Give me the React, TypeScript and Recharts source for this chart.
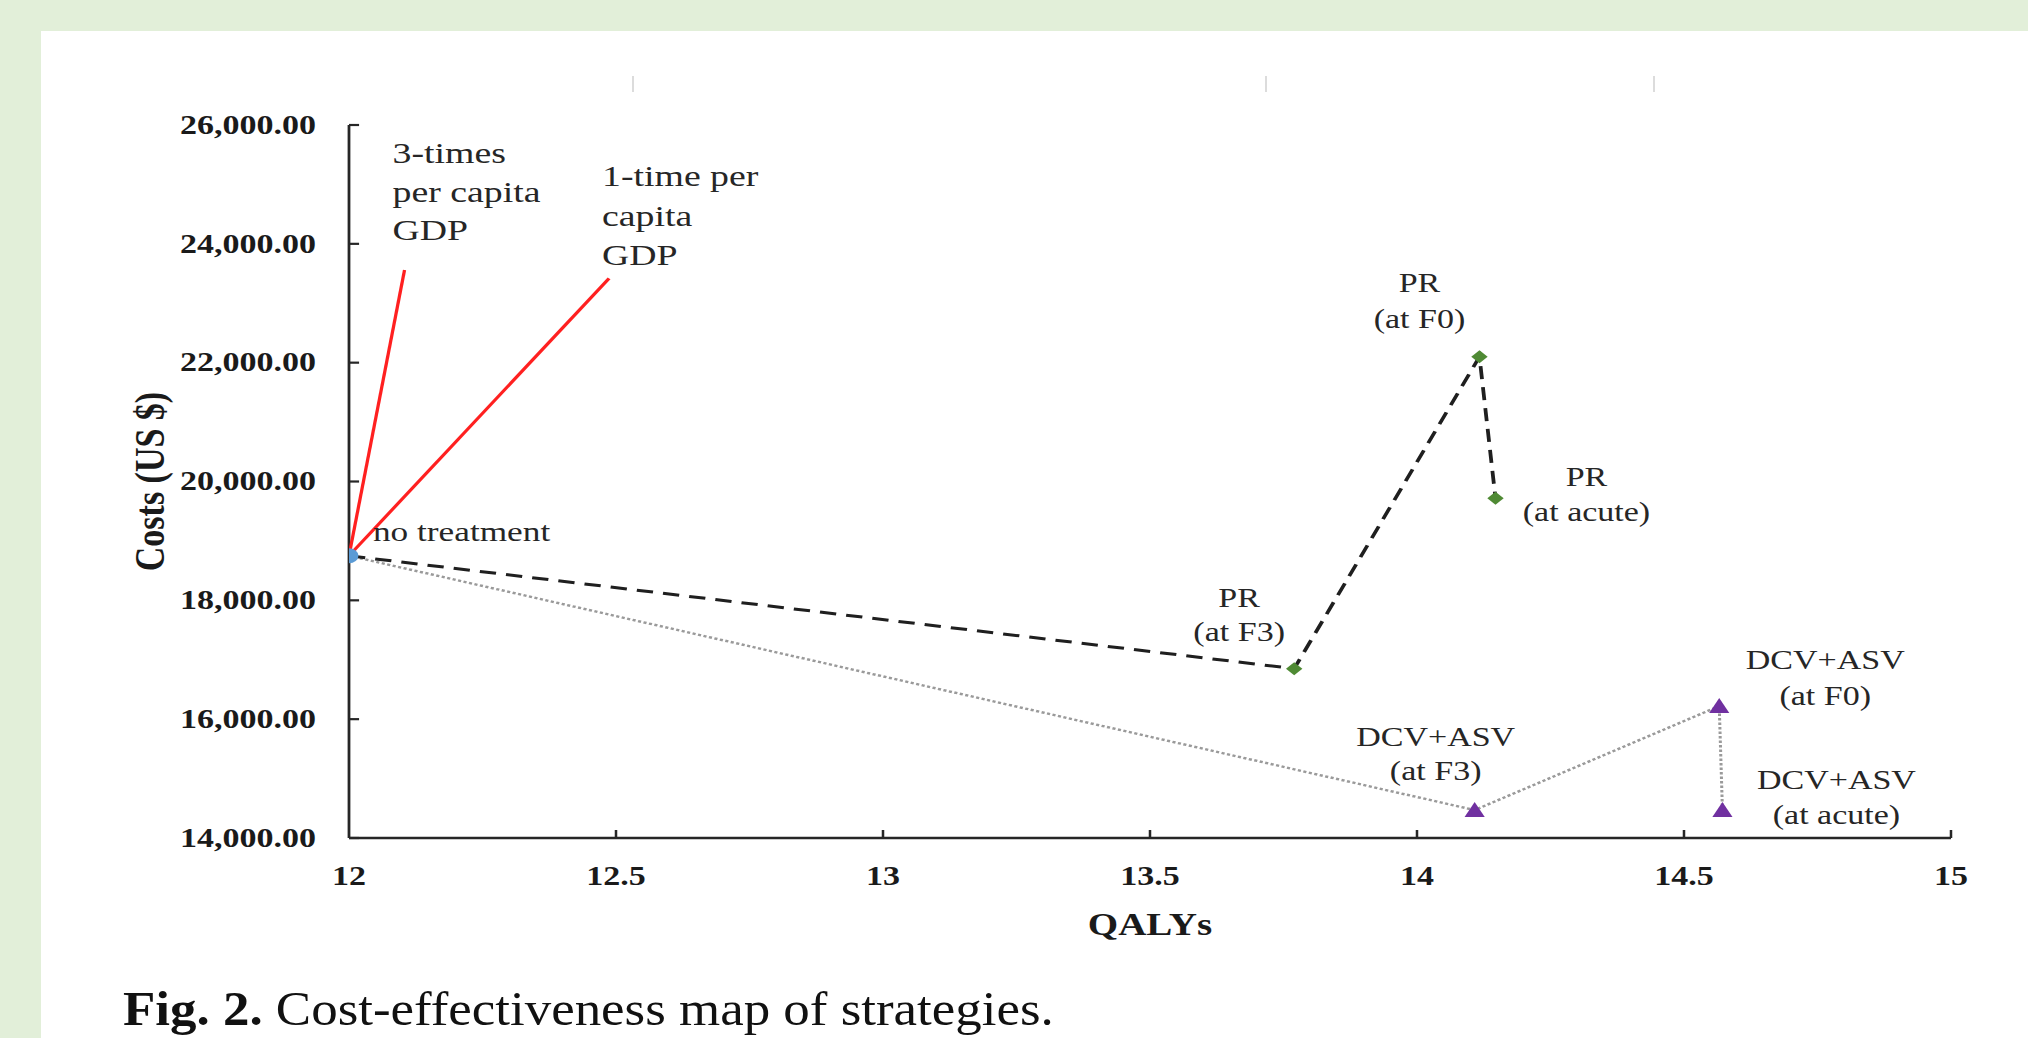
import React from 'react';
import { ComposedChart, Scatter, XAxis, YAxis } from 'recharts';

// ---------- data ----------
const xTicks = [12, 12.5, 13, 13.5, 14, 14.5, 15];
const yTicks = [14000, 16000, 18000, 20000, 22000, 24000, 26000];

const noTreatment = [{ x: 12, y: 18750 }];
const prPoints = [
  { x: 13.77, y: 16850 },  // PR (at F3)
  { x: 14.117, y: 22100 }, // PR (at F0)
  { x: 14.147, y: 19720 }, // PR (at acute)
];
const dcvPoints = [
  { x: 14.108, y: 14470 }, // DCV+ASV (at F3)
  { x: 14.566, y: 16220 }, // DCV+ASV (at F0)
  { x: 14.572, y: 14470 }, // DCV+ASV (at acute)
];
const wtp3Line = [{ x: 12, y: 18750 }, { x: 12.104, y: 23560 }];
const wtp1Line = [{ x: 12, y: 18750 }, { x: 12.487, y: 23420 }];

const prLabels = [['PR', '(at F3)'], ['PR', '(at F0)'], ['PR', '(at acute)']];
const dcvLabels = [['DCV+ASV', '(at F3)'], ['DCV+ASV', '(at F0)'], ['DCV+ASV', '(at acute)']];
const wtp3Label = ['3-times', 'per capita', 'GDP'];
const wtp1Label = ['1-time per', 'capita', 'GDP'];
const noTreatmentLabel = ['no treatment'];

// ---------- layout ----------
const K = 1.26; // horizontal stretch of the original figure
const W = 2028;
const H = 1038;
const CW = W / K;
const PLOT_LEFT = 349;
const PLOT_RIGHT = 1951;
const PLOT_TOP = 125;
const PLOT_BOTTOM = 838;
const FONT = "'Liberation Serif', 'Times New Roman', Times, serif";
const AXIS_COLOR = '#262626';
const TEXT_COLOR = '#262626';

// label offsets (full-pixel units, relative to the anchored point): dx, first-line dy, line height, anchor, font size
const prLabelLayout = [
  { dx: -55, dy: -70, lh: 34, anchor: 'middle', fs: 27 },
  { dx: -60, dy: -74, lh: 36, anchor: 'middle', fs: 27 },
  { dx: 91, dy: -21, lh: 35, anchor: 'middle', fs: 27 },
];
const dcvLabelLayout = [
  { dx: -39, dy: -73, lh: 34, anchor: 'middle', fs: 27 },
  { dx: 106, dy: -46, lh: 36, anchor: 'middle', fs: 27 },
  { dx: 114, dy: -30, lh: 35, anchor: 'middle', fs: 27 },
];

const nothing = () => <g />;

const textShape = (lines: string[], dx: number, dy: number, lh: number, anchor: string, fs: number) =>
  (p: any) => {
    const x = p.cx + dx / K;
    return (
      <g>
        {lines.map((l, i) => (
          <text
            key={i}
            x={x}
            y={p.cy + dy + i * lh}
            textAnchor={anchor as any}
            dominantBaseline="central"
            fontFamily={FONT}
            fontSize={fs}
            fill={TEXT_COLOR}
          >
            {l}
          </text>
        ))}
      </g>
    );
  };

const circleShape = (p: any) => <circle cx={p.cx} cy={p.cy} r={7.5} fill="#5b9bd5" />;
const diamondShape = (p: any) => (
  <polygon
    points={`${p.cx},${p.cy - 6.5} ${p.cx + 6.5},${p.cy} ${p.cx},${p.cy + 6.5} ${p.cx - 6.5},${p.cy}`}
    fill="#4f8a34"
  />
);
const triangleShape = (p: any) => (
  <polygon
    points={`${p.cx},${p.cy - 8} ${p.cx + 8},${p.cy + 7} ${p.cx - 8},${p.cy + 7}`}
    fill="#7030a0"
  />
);

const fmt = (v: number) =>
  v.toLocaleString('en-US', { minimumFractionDigits: 2, maximumFractionDigits: 2 });

const XTick = (p: any) => {
  const { x, y, payload } = p;
  return (
    <g>
      {payload.value !== 12 && (
        <line x1={x} x2={x} y1={y} y2={y - 8} stroke={AXIS_COLOR} strokeWidth={2} />
      )}
      <text
        x={x}
        y={y + 38}
        textAnchor="middle"
        dominantBaseline="central"
        fontFamily={FONT}
        fontWeight="bold"
        fontSize={27}
        fill="#1a1a1a"
      >
        {payload.value}
      </text>
    </g>
  );
};

const YTick = (p: any) => {
  const { x, y, payload } = p;
  return (
    <g>
      <line x1={x} x2={x + 8} y1={y} y2={y} stroke={AXIS_COLOR} strokeWidth={2.2} />
      <text
        x={x - 33 / K}
        y={y}
        textAnchor="end"
        dominantBaseline="central"
        fontFamily={FONT}
        fontWeight="bold"
        fontSize={27}
        fill="#1a1a1a"
      >
        {fmt(payload.value)}
      </text>
    </g>
  );
};

const XTitle = (p: any) => {
  const vb = p.viewBox || {};
  const cx = vb.width ? vb.x + vb.width / 2 : (PLOT_LEFT + PLOT_RIGHT) / 2 / K;
  const top = vb.y !== undefined ? vb.y : PLOT_BOTTOM;
  return (
    <text
      x={cx}
      y={top + 87}
      textAnchor="middle"
      dominantBaseline="central"
      fontFamily={FONT}
      fontWeight="bold"
      fontSize={31}
      fill="#1a1a1a"
    >
      QALYs
    </text>
  );
};

const YTitle = (p: any) => {
  const vb = p.viewBox || {};
  const cy = vb.height ? vb.y + vb.height / 2 : (PLOT_TOP + PLOT_BOTTOM) / 2;
  const cx = 150 / K;
  return (
    <text
      x={cx}
      y={cy}
      transform={`rotate(-90, ${cx}, ${cy})`}
      textAnchor="middle"
      dominantBaseline="central"
      fontFamily={FONT}
      fontWeight="bold"
      fontSize={34}
      fill="#1a1a1a"
    >
      Costs (US $)
    </text>
  );
};

const prPath = [...noTreatment, ...prPoints];
const dcvPath = [...noTreatment, ...dcvPoints];

export default function App() {
  return (
    <div
      style={{
        position: 'absolute',
        left: 0,
        top: 0,
        width: W,
        height: H,
        overflow: 'hidden',
        background: '#e2efd9',
      }}
    >
      <div
        style={{
          position: 'absolute',
          left: 41,
          top: 31,
          width: W - 41,
          height: H - 31,
          background: '#ffffff',
        }}
      />
      {[632, 1265, 1653].map((x) => (
        <div
          key={x}
          style={{ position: 'absolute', left: x, top: 76, width: 2, height: 16, background: '#dcdcdc' }}
        />
      ))}
      <div
        style={{
          position: 'absolute',
          left: 0,
          top: 0,
          width: CW,
          height: H,
          transform: `scaleX(${K})`,
          transformOrigin: '0 0',
        }}
      >
        <ComposedChart
          width={CW}
          height={H}
          margin={{ top: PLOT_TOP, right: (W - PLOT_RIGHT) / K, bottom: 0, left: 0 }}
        >
          <XAxis
            type="number"
            dataKey="x"
            domain={[12, 15]}
            ticks={xTicks}
            interval={0}
            allowDataOverflow
            height={H - PLOT_BOTTOM}
            tickSize={0}
            tickMargin={0}
            tickLine={false}
            axisLine={{ stroke: AXIS_COLOR, strokeWidth: 2.6 }}
            tick={(p: any) => <XTick {...p} />}
            label={<XTitle />}
          />
          <YAxis
            type="number"
            dataKey="y"
            domain={[14000, 26000]}
            ticks={yTicks}
            interval={0}
            allowDataOverflow
            width={PLOT_LEFT / K}
            tickSize={0}
            tickMargin={0}
            tickLine={false}
            axisLine={{ stroke: AXIS_COLOR, strokeWidth: 2.2 }}
            tick={(p: any) => <YTick {...p} />}
            label={<YTitle />}
          />

          {/* connecting lines */}
          <Scatter
            data={dcvPath}
            shape={nothing}
            line={{ stroke: '#9a9a9a', strokeWidth: 2.4, strokeDasharray: '2.5 2' }}
            isAnimationActive={false}
          />
          <Scatter
            data={prPath}
            shape={nothing}
            line={{ stroke: '#1f1f1f', strokeWidth: 3, strokeDasharray: '13 8' }}
            isAnimationActive={false}
          />
          <Scatter
            data={wtp3Line}
            shape={nothing}
            line={{ stroke: '#ff2020', strokeWidth: 2.6 }}
            isAnimationActive={false}
          />
          <Scatter
            data={wtp1Line}
            shape={nothing}
            line={{ stroke: '#ff2020', strokeWidth: 2.8 }}
            isAnimationActive={false}
          />

          {/* markers */}
          <Scatter data={noTreatment} shape={circleShape} isAnimationActive={false} />
          <Scatter data={prPoints} shape={diamondShape} isAnimationActive={false} />
          <Scatter data={dcvPoints} shape={triangleShape} isAnimationActive={false} />

          {/* annotations */}
          <Scatter
            data={noTreatment}
            shape={textShape(noTreatmentLabel, 24, -24, 0, 'start', 28)}
            isAnimationActive={false}
          />
          <Scatter
            data={[wtp3Line[1]]}
            shape={textShape(wtp3Label, -12, -117, 38.5, 'start', 30)}
            isAnimationActive={false}
          />
          <Scatter
            data={[wtp1Line[1]]}
            shape={textShape(wtp1Label, -7, -102, 39.5, 'start', 30)}
            isAnimationActive={false}
          />
          {prPoints.map((pt, i) => (
            <Scatter
              key={'pr' + i}
              data={[pt]}
              shape={textShape(
                prLabels[i],
                prLabelLayout[i].dx,
                prLabelLayout[i].dy,
                prLabelLayout[i].lh,
                prLabelLayout[i].anchor,
                prLabelLayout[i].fs
              )}
              isAnimationActive={false}
            />
          ))}
          {dcvPoints.map((pt, i) => (
            <Scatter
              key={'dcv' + i}
              data={[pt]}
              shape={textShape(
                dcvLabels[i],
                dcvLabelLayout[i].dx,
                dcvLabelLayout[i].dy,
                dcvLabelLayout[i].lh,
                dcvLabelLayout[i].anchor,
                dcvLabelLayout[i].fs
              )}
              isAnimationActive={false}
            />
          ))}
        </ComposedChart>
      </div>
      <div
        style={{
          position: 'absolute',
          left: 123,
          top: 984,
          fontFamily: FONT,
          fontSize: 49,
          lineHeight: 1,
          whiteSpace: 'nowrap',
          color: '#111111',
          transform: 'scaleX(1.08)',
          transformOrigin: '0 0',
        }}
      >
        <b>Fig. 2.</b> Cost-effectiveness map of strategies.
      </div>
    </div>
  );
}
